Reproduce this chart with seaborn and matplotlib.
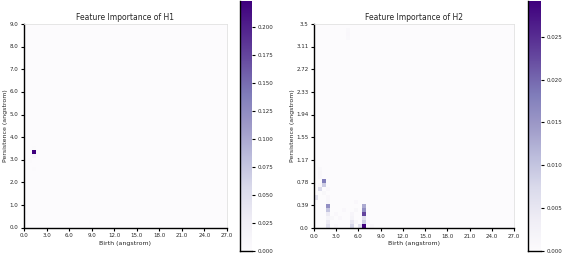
import numpy as np
import matplotlib
matplotlib.use("Agg")
import matplotlib.pyplot as plt
import seaborn as sns

sns.set_style("white")
plt.rcParams['font.family'] = ['DejaVu Sans']

n_bins = 50

# H1 importance cells (birth bin, persistence bin, value)
h1_cols = [2, 2, 2, 1, 1, 2, 3, 0, 1, 2, 0, 3, 16, 22, 4]
h1_rows = [18, 17, 19, 16, 12, 14, 13, 3, 6, 9, 1, 2, 1, 0, 5]
h1_vals = [0.2236, 0.012, 0.003, 0.002, 0.0015, 0.002, 0.0015,
           0.002, 0.0015, 0.0015, 0.002, 0.0015, 0.003, 0.0025, 0.001]

# H2 importance cells
h2_cols = [12, 12, 12, 12, 12, 12,
           3, 3, 3, 3, 3, 3,
           2, 2, 1, 0,
           9, 9, 9, 9, 11,
           1, 1, 1, 1, 3, 3, 3, 4, 5, 5, 10, 10, 10, 13, 14, 8, 8, 8, 2, 6, 7]
h2_rows = [0, 1, 2, 3, 4, 5,
           0, 1, 2, 3, 4, 5,
           11, 10, 9, 7,
           0, 1, 2, 3, 0,
           10, 12, 13, 14, 6, 7, 9, 2, 0, 3, 1, 4, 6, 1, 0, 46, 47, 48, 8, 2, 4]
h2_vals = [0.0292, 0.009, 0.006, 0.023, 0.016, 0.013,
           0.006, 0.004, 0.002, 0.004, 0.010, 0.016,
           0.018, 0.009, 0.007, 0.006,
           0.008, 0.005, 0.002, 0.0015, 0.006,
           0.001, 0.001, 0.0012, 0.0008, 0.0012, 0.001, 0.001, 0.0012, 0.001,
           0.001, 0.0015, 0.0012, 0.001, 0.001, 0.001, 0.0008, 0.001, 0.0008,
           0.0012, 0.001, 0.001]

x_labels = ["0.0", "3.0", "6.0", "9.0", "12.0", "15.0", "18.0", "21.0", "24.0", "27.0"]
h1_y_labels = ["0.0", "1.0", "2.0", "3.0", "4.0", "5.0", "6.0", "7.0", "8.0", "9.0"]
h2_y_labels = ["0.0", "0.39", "0.78", "1.17", "1.55", "1.94", "2.33", "2.72", "3.11", "3.5"]
h1_cbar_ticks = [0.0, 0.025, 0.05, 0.075, 0.1, 0.125, 0.15, 0.175, 0.2]
h2_cbar_ticks = [0.0, 0.005, 0.01, 0.015, 0.02, 0.025]


def build(cols, rows, vals):
    grid = np.zeros((n_bins, n_bins))
    for c, r, v in zip(cols, rows, vals):
        grid[r, c] = v
    return grid


fig = plt.figure(figsize=(5.62, 2.54), dpi=100)
ax1 = fig.add_axes([0.0427, 0.1035, 0.3612, 0.802])
cax1 = fig.add_axes([0.4262, 0.013, 0.0217, 0.983])
ax2 = fig.add_axes([0.5587, 0.102, 0.3559, 0.803])
cax2 = fig.add_axes([0.940, 0.013, 0.022, 0.983])

panels = [
    (ax1, cax1, build(h1_cols, h1_rows, h1_vals), h1_y_labels, h1_cbar_ticks, "Feature Importance of H1"),
    (ax2, cax2, build(h2_cols, h2_rows, h2_vals), h2_y_labels, h2_cbar_ticks, "Feature Importance of H2"),
]

for ax, cax, grid, ylabels, cticks, title in panels:
    sns.heatmap(grid, ax=ax, cbar_ax=cax, cmap="Purples", vmin=0,
                cbar_kws={"ticks": cticks, "format": "%.3f"})
    ax.invert_yaxis()
    pos = np.linspace(0, n_bins, 10)
    ax.set_xticks(pos, x_labels, fontsize=4, rotation=0)
    ax.set_yticks(pos, ylabels, fontsize=4, rotation=0)
    ax.tick_params(left=True, bottom=True, length=2.5, width=0.8, pad=1.5,
                   color="black")
    for side in ["left", "bottom"]:
        ax.spines[side].set_visible(True)
        ax.spines[side].set_color("black")
        ax.spines[side].set_linewidth(1.0)
    for side in ["top", "right"]:
        ax.spines[side].set_visible(True)
        ax.spines[side].set_color("#e2e2e2")
        ax.spines[side].set_linewidth(0.6)
    ax.set_title(title, fontsize=5.5, pad=3)
    ax.set_xlabel("Birth (angstrom)", fontsize=4.5, labelpad=2)
    ax.set_ylabel("Persistence (angstrom)", fontsize=4.5, labelpad=1)

    cb = ax.collections[0].colorbar
    cb.outline.set_visible(False)
    cax.tick_params(labelsize=4, length=2.5, width=0.8, pad=1.5, right=True,
                    color="black")
    for side in ["left", "bottom"]:
        cax.spines[side].set_visible(True)
        cax.spines[side].set_color("black")
        cax.spines[side].set_linewidth(1.0)

fig.savefig("out.png", dpi=100)
